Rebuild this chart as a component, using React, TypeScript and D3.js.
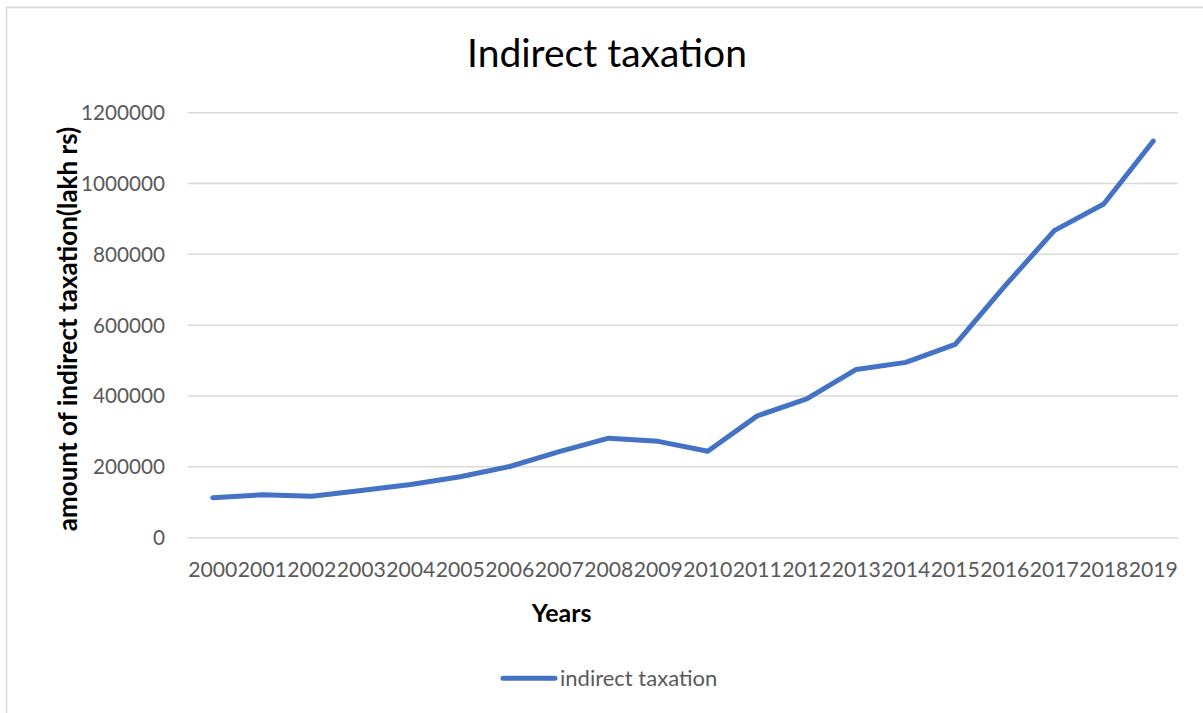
import React from "react";
import * as d3 from "d3";

// Indirect taxation collected per year (lakh rs)
const years = [
  "2000", "2001", "2002", "2003", "2004", "2005", "2006", "2007", "2008", "2009",
  "2010", "2011", "2012", "2013", "2014", "2015", "2016", "2017", "2018", "2019",
];
const indirectTaxation = [
  113000, 121000, 117000, 133000, 150000, 172000, 201000, 243000, 281000, 272000,
  244000, 344000, 392000, 475000, 495000, 546000, 710000, 867000, 942000, 1120000,
];
const yTicks = [0, 200000, 400000, 600000, 800000, 1000000, 1200000];

const chartTitle = "Indirect taxation";
const xAxisTitle = "Years";
const yAxisTitle = "amount of indirect taxation(lakh rs)";
const seriesName = "indirect taxation";

const W = 1203;
const H = 713;
const FONT = "Lato, 'Liberation Sans', Arial, sans-serif";
const LINE_COLOR = "#4472C4";
const GRID_COLOR = "#d9d9d9";
const TEXT_COLOR = "#595959";

export default function App() {
  const plot = { left: 188, right: 1178, top: 112.7, bottom: 537.7 };

  const x = d3.scalePoint<string>().domain(years).range([plot.left, plot.right]).padding(0.5);
  const y = d3.scaleLinear().domain([0, 1200000]).range([plot.bottom, plot.top]);

  const line = d3
    .line<number>()
    .x((_, i) => x(years[i]) as number)
    .y((d) => y(d));

  return (
    <div style={{ position: "absolute", left: 0, top: 0 }}>
      <svg width={W} height={H} style={{ display: "block", background: "#fff" }}>
        {/* outer chart frame */}
        <rect x={6.5} y={7.5} width={1200} height={710} fill="#fff" stroke={GRID_COLOR} strokeWidth={1.5} />

        {/* title */}
        <text x={607} y={67} textAnchor="middle" fontFamily={FONT} fontSize={39} fill="#000">
          {chartTitle}
        </text>

        {/* horizontal gridlines and y tick labels */}
        {yTicks.map((t) => (
          <g key={t}>
            <line x1={plot.left} x2={plot.right} y1={y(t)} y2={y(t)} stroke={GRID_COLOR} strokeWidth={1.5} />
            <text
              x={165}
              y={y(t)}
              dy="0.36em"
              textAnchor="end"
              fontFamily={FONT}
              fontSize={20.7}
              fill={TEXT_COLOR}
            >
              {t}
            </text>
          </g>
        ))}

        {/* x tick labels */}
        {years.map((yr) => (
          <text
            key={yr}
            x={x(yr)}
            y={577}
            textAnchor="middle"
            fontFamily={FONT}
            fontSize={21.2}
            fill={TEXT_COLOR}
          >
            {yr}
          </text>
        ))}

        {/* axis titles */}
        <text x={561.7} y={622} textAnchor="middle" fontFamily={FONT} fontWeight="bold" fontSize={25} fill="#000">
          {xAxisTitle}
        </text>
        <text
          transform={`translate(77,329) rotate(-90)`}
          textAnchor="middle"
          fontFamily={FONT}
          fontWeight="bold"
          fontSize={26}
          fill="#000"
        >
          {yAxisTitle}
        </text>

        {/* series line */}
        <path
          d={line(indirectTaxation) ?? ""}
          fill="none"
          stroke={LINE_COLOR}
          strokeWidth={5}
          strokeLinejoin="round"
          strokeLinecap="round"
        />

        {/* legend */}
        <line x1={503} x2={555} y1={678.3} y2={678.3} stroke={LINE_COLOR} strokeWidth={5} strokeLinecap="round" />
        <text x={560} y={686} fontFamily={FONT} fontSize={22} fill={TEXT_COLOR}>
          {seriesName}
        </text>
      </svg>
    </div>
  );
}
